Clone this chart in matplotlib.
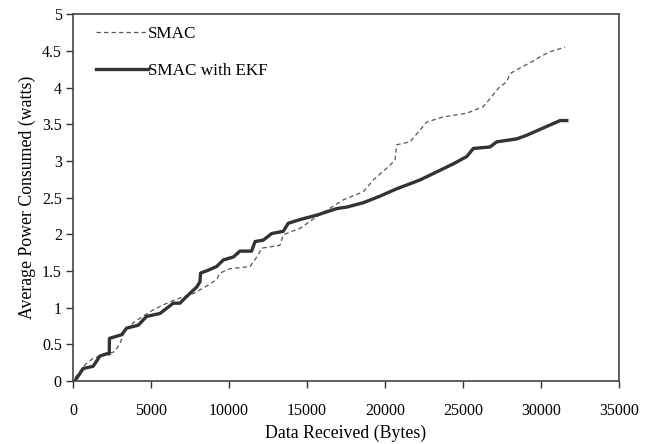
import matplotlib
matplotlib.use("Agg")
import matplotlib.pyplot as plt

# values
smac_x = [130, 770, 1300, 1940, 2690, 3010, 3330, 3970, 5150, 6220, 6860, 7710,
          8460, 9210, 9420, 10060, 11350, 11880, 12090, 13270, 13480, 13910,
          14550, 15620, 17330, 18610, 19250, 20210, 20640, 20750, 21600, 22240,
          22670, 23740, 25240, 26300, 26730, 27260, 27800, 28010, 28760, 29400,
          29940, 30580, 31540]
smac_y = [0.04, 0.22, 0.31, 0.35, 0.40, 0.51, 0.69, 0.81, 0.97, 1.08, 1.13, 1.19,
          1.28, 1.38, 1.47, 1.53, 1.56, 1.72, 1.81, 1.85, 1.99, 2.03,
          2.08, 2.24, 2.47, 2.58, 2.74, 2.92, 3.01, 3.22, 3.26, 3.42,
          3.53, 3.60, 3.65, 3.74, 3.85, 3.99, 4.08, 4.19, 4.28, 4.35,
          4.42, 4.49, 4.55]

ekf_x = [128, 660, 1300, 1730, 2160, 2330, 2340, 3120, 3440, 4190, 4720, 5580,
         6430, 6860, 7180, 7930, 8140, 8180, 8670, 9210, 9640, 10280, 10700,
         11450, 11670, 12200, 12740, 13480, 13800, 14550, 15620, 16900, 17540,
         18610, 19680, 20750, 22240, 23310, 24380, 25240, 25660, 26730, 27160,
         28440, 29080, 29830, 30580, 31220, 31650]
ekf_y = [0.0, 0.17, 0.20, 0.34, 0.37, 0.37, 0.58, 0.63, 0.72, 0.76, 0.88, 0.92,
         1.06, 1.06, 1.13, 1.28, 1.35, 1.47, 1.51, 1.56, 1.65, 1.69, 1.77,
         1.77, 1.90, 1.92, 2.01, 2.04, 2.15, 2.20, 2.26, 2.35, 2.37,
         2.43, 2.52, 2.62, 2.74, 2.85, 2.96, 3.06, 3.17, 3.19, 3.26,
         3.30, 3.35, 3.42, 3.49, 3.55, 3.55]

xticks = [0, 5000, 10000, 15000, 20000, 25000, 30000, 35000]
yticks = [0, 0.5, 1, 1.5, 2, 2.5, 3, 3.5, 4, 4.5, 5]
ytick_labels = ["0", "0.5", "1", "1.5", "2", "2.5", "3", "3.5", "4", "4.5", "5"]

plt.rcParams['font.family'] = ['Liberation Serif', 'DejaVu Serif']
plt.rcParams['font.size'] = 11.5

fig = plt.figure(figsize=(6.51, 4.44), dpi=100)
ax = fig.add_axes([0.112, 0.142, 0.839, 0.826])

ax.plot(smac_x, smac_y, color='#555555', lw=0.9, ls=(0, (3.5, 2.5)), label='SMAC')
ax.plot(ekf_x, ekf_y, color='#333333', lw=2.4, label='SMAC with EKF')

ax.set_xlim(0, 35000)
ax.set_ylim(0, 5)
ax.set_xticks(xticks)
ax.set_yticks(yticks)
ax.set_yticklabels(ytick_labels)
ax.tick_params(direction='out', length=5, width=1, color='#333333', pad=3,
               labelsize=11.5)
ax.tick_params(axis='x', pad=11)
for s in ax.spines.values():
    s.set_color('#444444')
    s.set_linewidth(1.2)

ax.set_xlabel('Data Received (Bytes)', fontsize=12.8, labelpad=4)
ax.set_ylabel('Average Power Consumed (watts)', fontsize=12.8, labelpad=4)

ax.legend(loc='upper left', bbox_to_anchor=(0.014, 1.009), frameon=False,
          handlelength=3.05, handletextpad=0.0, labelspacing=1.2, fontsize=12.3)

fig.savefig('out.png', dpi=100)
